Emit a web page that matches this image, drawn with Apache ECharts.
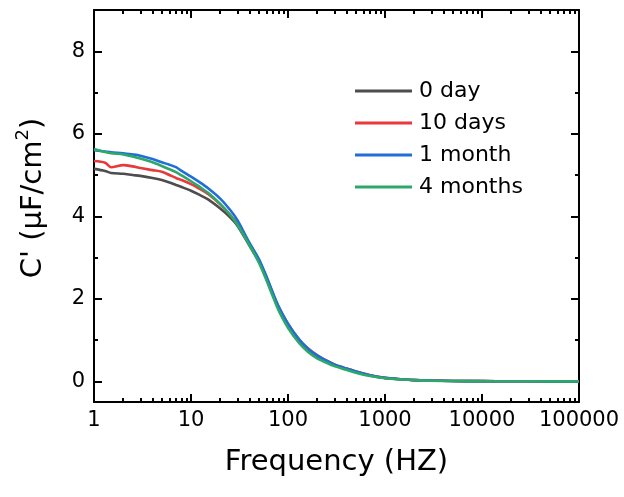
<!DOCTYPE html>
<html>
<head>
<meta charset="utf-8">
<script src="https://cdn.jsdelivr.net/npm/echarts@6/dist/echarts.min.js"></script>
<style>html,body{margin:0;padding:0;background:#fff}#c{width:624px;height:497px}</style>
</head>
<body>
<div id="c"></div>
<script>
const freq = [1,1.3,1.5,2,2.5,3,4,5,6,7,8,10,12,15,20,25,30,40,50,60,70,80,100,130,160,200,250,300,400,500,700,1000,1500,2000,3000,5000,10000,20000,50000,100000];
const day0 = [5.15,5.10,5.05,5.03,5.00,4.98,4.93,4.88,4.82,4.76,4.71,4.62,4.53,4.41,4.19,3.99,3.78,3.29,2.91,2.49,2.09,1.77,1.36,0.99,0.78,0.61,0.49,0.40,0.30,0.23,0.14,0.08,0.05,0.03,0.018,0.01,0.005,0.003,0.001,0];
const days10 = [5.34,5.30,5.19,5.24,5.21,5.17,5.12,5.08,5.00,4.93,4.88,4.78,4.68,4.54,4.29,4.05,3.82,3.33,2.94,2.52,2.12,1.80,1.39,1.01,0.80,0.63,0.50,0.41,0.31,0.24,0.15,0.085,0.05,0.03,0.018,0.01,0.005,0.003,0.001,0];
const month1 = [5.60,5.57,5.55,5.53,5.50,5.47,5.39,5.31,5.25,5.19,5.10,4.96,4.84,4.68,4.43,4.17,3.91,3.36,2.97,2.54,2.14,1.82,1.40,1.02,0.80,0.63,0.50,0.41,0.31,0.24,0.15,0.085,0.05,0.03,0.018,0.01,0.005,0.003,0.001,0];
const months4 = [5.63,5.56,5.53,5.50,5.45,5.40,5.31,5.22,5.14,5.07,4.99,4.85,4.73,4.57,4.30,4.05,3.80,3.30,2.88,2.45,2.05,1.72,1.30,0.93,0.72,0.56,0.45,0.37,0.28,0.21,0.13,0.075,0.045,0.03,0.015,0.008,0.004,0.002,0.001,0];
const seriesNames = ['0 day','10 days','1 month','4 months'];
const seriesColors = ['#4d4d4d','#e8393b','#1f6fd6','#2ea86a'];
const xMajorTicks = [1,10,100,1000,10000,100000];
const xMinorTicks = [2,3,4,5,6,7,8,9,20,30,40,50,60,70,80,90,200,300,400,500,600,700,800,900,2000,3000,4000,5000,6000,7000,8000,9000,20000,30000,40000,50000,60000,70000,80000,90000];
const yMajorTicks = [0,2,4,6,8];
const yMinorTicks = [1,3,5,7];

const FONT = 'DejaVu Sans';
const chart = echarts.init(document.getElementById('c'), null, {renderer:'canvas'});
const lineStyle = {color:'#000', width:2};
function xAxisDef(pos, major, showLine, showLabel) {
  return {
    type:'log', logBase:10, min:1, max:100000, position:pos,
    axisLine:{show:showLine, onZero:false, lineStyle:lineStyle},
    axisTick:{show:true, inside:true, length: major?8:4, lineStyle:{color:'#000', width:2}, customValues: major?xMajorTicks:xMinorTicks},
    axisLabel:{show:showLabel, customValues:xMajorTicks, margin:8, fontFamily:FONT, fontSize:21, color:'#000', formatter:v=>String(Math.round(v))},
    splitLine:{show:false}, minorTick:{show:false}
  };
}
function yAxisDef(pos, major, showLine, showLabel) {
  return {
    type:'value', min:-0.5, max:9, position:pos,
    axisLine:{show:showLine, onZero:false, lineStyle:lineStyle},
    axisTick:{show:true, inside:true, length: major?8:4, lineStyle:{color:'#000', width:2}, customValues: major?yMajorTicks:yMinorTicks},
    axisLabel:{show:showLabel, customValues:yMajorTicks, margin:9, fontFamily:FONT, fontSize:21, color:'#000'},
    splitLine:{show:false}
  };
}
const xs = [xAxisDef('bottom',true,true,true), xAxisDef('bottom',false,false,false), xAxisDef('top',true,true,false), xAxisDef('top',false,false,false)];
xs[0].name = 'Frequency (HZ)';
xs[0].nameLocation = 'middle';
xs[0].nameGap = 46;
xs[0].nameTextStyle = {fontFamily:FONT, fontSize:29, color:'#000'};
const ys = [yAxisDef('left',true,true,true), yAxisDef('left',false,false,false), yAxisDef('right',true,true,false), yAxisDef('right',false,false,false)];
ys[0].name = "{a|C' (μF/cm}{s|2}{a|)}";
ys[0].nameLocation = 'middle';
ys[0].nameGap = 46;
ys[0].nameRotate = 90;
ys[0].nameTextStyle = {fontFamily:FONT, fontSize:29, color:'#000', padding:[0,0,0,16], rich:{
  a:{fontFamily:FONT, fontSize:29, color:'#000', lineHeight:34, verticalAlign:'bottom'},
  s:{fontFamily:FONT, fontSize:18, color:'#000', lineHeight:34, verticalAlign:'top'}
}};

const allData = [day0, days10, month1, months4];
chart.setOption({
  animation:false,
  backgroundColor:'#fff',
  grid:{left:94, right:45, top:10, bottom:95, containLabel:false},
  xAxis: xs,
  yAxis: ys,
  legend:{
    show:true, orient:'vertical', left:355, top:79, padding:0,
    itemWidth:57, itemHeight:3, itemGap:8, icon:'rect',
    textStyle:{fontFamily:FONT, fontSize:22, color:'#000', lineHeight:24, padding:[0,0,0,2]},
    data: seriesNames
  },
  series: seriesNames.map((n,i)=>({
    name:n, type:'line', xAxisIndex:0, yAxisIndex:0, symbol:'none', showSymbol:false,
    smooth:0.3,
    lineStyle:{color:seriesColors[i], width:2.6}, itemStyle:{color:seriesColors[i]},
    data: freq.map((f,j)=>[f, allData[i][j]]), z:2+i
  }))
});
</script>
</body>
</html>
